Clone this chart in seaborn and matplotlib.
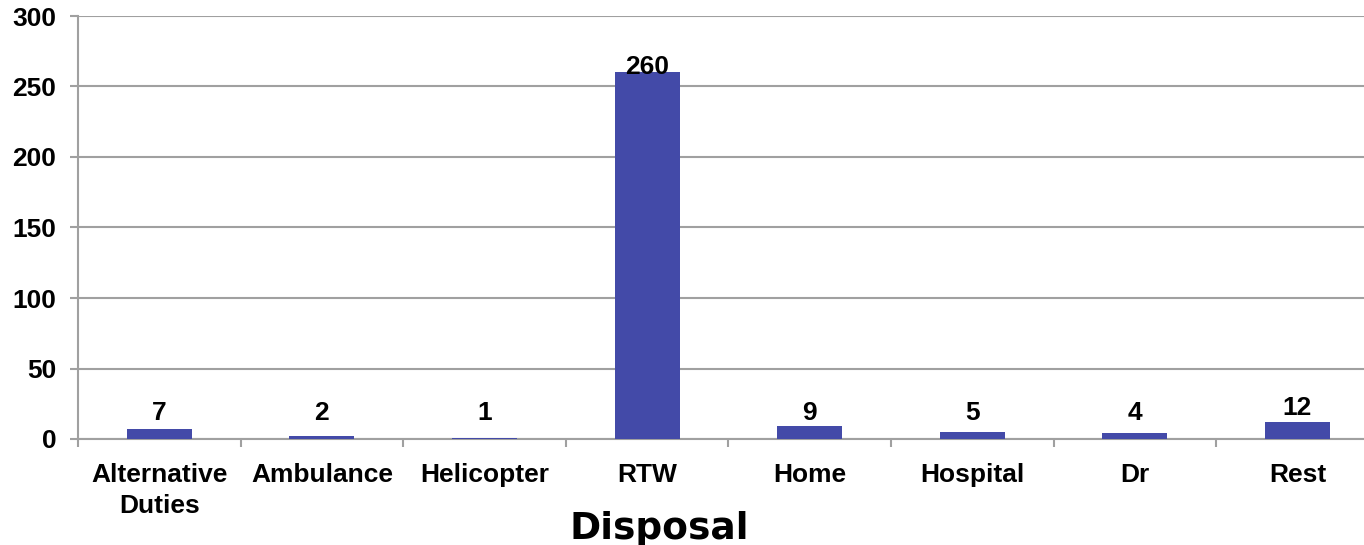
import matplotlib
matplotlib.use("Agg")
import matplotlib.pyplot as plt
import seaborn as sns
import pandas as pd
import numpy as np

categories = ["Alternative\nDuties", "Ambulance", "Helicopter", "RTW", "Home", "Hospital", "Dr", "Rest"]
values = [7, 2, 1, 260, 9, 5, 4, 12]
yticks = [0, 50, 100, 150, 200, 250, 300]

sns.set_theme(style="white")
plt.rcParams['font.family'] = ['Liberation Sans', 'DejaVu Sans']
plt.rcParams['font.weight'] = 'bold'
plt.rcParams['text.color'] = 'black'
plt.rcParams['xtick.color'] = 'black'
plt.rcParams['ytick.color'] = 'black'

df = pd.DataFrame({"Disposal": categories, "Count": values})

W, H = 1364, 545
fig = plt.figure(figsize=(W/100, H/100), dpi=100)
left_px, zero_px, top_px, cat_w = 78, 439, 16, 162.6
ax = fig.add_axes([left_px/W, 1-zero_px/H, 8*cat_w/W, (zero_px-top_px)/H])

bar_color = "#434AA8"
sns.barplot(data=df, x="Disposal", y="Count", color=bar_color, width=0.40,
            saturation=1, linewidth=0, ax=ax, zorder=3)

ax.set_ylim(0, 300)
ax.set_xlim(-0.5, len(categories) - 0.5)
ax.set_yticks(yticks)
ax.set_yticklabels([str(t) for t in yticks], fontsize=19, fontweight='bold', color='black')
ax.yaxis.grid(True, color="#A0A0A0", linewidth=1.5, zorder=0)
ax.set_axisbelow(True)

for s in ["top", "right"]:
    ax.spines[s].set_visible(False)
for s in ["left", "bottom"]:
    ax.spines[s].set_color("#A0A0A0")
    ax.spines[s].set_linewidth(1.5)

ax.tick_params(axis="y", length=6, width=1.5, color="#A0A0A0", pad=9.5, left=True, labelcolor='black')
ax.set_xticks(range(len(categories)))
ax.set_xticklabels(categories, fontsize=19, fontweight='bold', linespacing=1.4, color='black')
ax.tick_params(axis="x", which="major", length=0, pad=17, labelcolor='black')
ax.set_xticks(np.arange(-0.5, len(categories), 1.0), minor=True)
ax.tick_params(axis="x", which="minor", length=6, width=1.5, color="#A0A0A0", bottom=True)

ax.set_xlabel("")
ax.set_ylabel("")

for i, v in enumerate(values):
    if v < 200:
        ypos, off = max(v, 9), 1.3
    else:
        ypos, off = v, -5
    ax.annotate(str(v), xy=(i, ypos), xytext=(0, off), textcoords="offset points",
                ha="center", va="bottom", fontsize=19, fontweight="bold", color="black",
                zorder=5)

fig.text(659/W, 1-529/H, "Disposal", ha="center", va="center", color="black",
         fontsize=27, fontweight="bold", family=['DejaVu Sans'])

fig.savefig("out.png", dpi=100)
